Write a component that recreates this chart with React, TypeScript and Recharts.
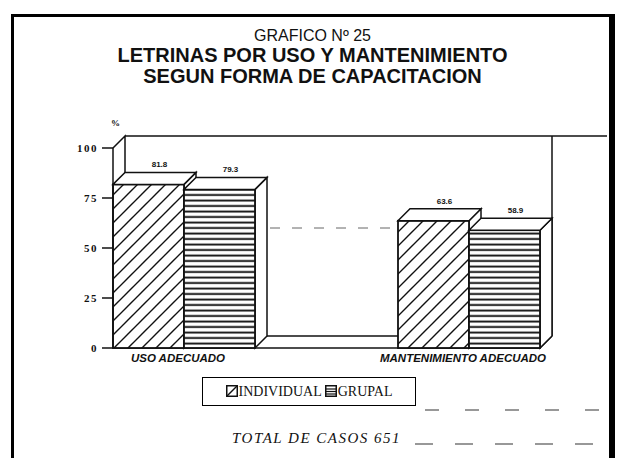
import React from "react";
import { BarChart, Bar, XAxis, YAxis, LabelList, usePlotArea } from "recharts";

// values (%)
const categories = ["USO ADECUADO", "MANTENIMIENTO ADECUADO"];
const individualValues = [81.8, 63.6];
const grupalValues = [79.3, 58.9];
const yTicks = [0, 25, 50, 75, 100];
const seriesNames = ["INDIVIDUAL", "GRUPAL"];

const chartData = categories.map((name, i) => ({
  name,
  individual: individualValues[i],
  grupal: grupalValues[i],
}));

const DEPTH = 12;
const INK = "#111";
const SANS = "'Liberation Sans', Arial, sans-serif";
const SERIF = "'Liberation Serif', 'Times New Roman', serif";

// one 3D bar: side, front (patterned) and top faces
function Bar3D(props: any) {
  const { x, y, width, height, pattern } = props;
  if (!height || height <= 0) return null;
  const d = DEPTH;
  return (
    <g>
      <polygon
        points={`${x + width},${y} ${x + width + d},${y - d} ${x + width + d},${y + height - d} ${x + width},${y + height}`}
        fill="#fff"
        stroke={INK}
        strokeWidth={1.5}
      />
      <rect x={x} y={y} width={width} height={height} fill={`url(#${pattern})`} stroke={INK} strokeWidth={1.8} />
      <polygon
        points={`${x},${y} ${x + d},${y - d} ${x + width + d},${y - d} ${x + width},${y}`}
        fill="#fff"
        stroke={INK}
        strokeWidth={1.5}
      />
    </g>
  );
}

function ValueLabel(props: any) {
  const { x, y, width, value } = props;
  return (
    <text
      x={x + width / 2 + 11}
      y={y - DEPTH - 5}
      textAnchor="middle"
      fontSize={8}
      fontWeight="bold"
      fontFamily={SANS}
      fill={INK}
    >
      {value}
    </text>
  );
}

function CategoryTick(props: any) {
  const { x, y, payload } = props;
  return (
    <text
      x={x - 6}
      y={y + 6}
      textAnchor="middle"
      fontSize={11.5}
      fontWeight="bold"
      fontStyle="italic"
      fontFamily={SANS}
      fill={INK}
    >
      {payload.value}
    </text>
  );
}

function ValueTick(props: any) {
  const { x, y, payload } = props;
  return (
    <text x={x - 2} y={y + 4} textAnchor="end" fontSize={11} fontWeight="bold" fontFamily={SERIF} letterSpacing={1.5} fill={INK}>
      {payload.value}
    </text>
  );
}

// back wall, left wall and floor of the 3D box
function Walls() {
  const area = usePlotArea();
  if (!area) return null;
  const { x, y, width, height } = area;
  const d = DEPTH;
  const r = x + width;
  const b = y + height;
  return (
    <g stroke={INK} strokeWidth={1.5} fill="none">
      <polyline points={`${x},${y} ${x + d},${y - d} ${x + d},${b - d}`} />
      <line x1={x + d} y1={y - d} x2={r + d + 55} y2={y - d} />
      <line x1={r + d} y1={y - d} x2={r + d} y2={b - d} />
      <line x1={x} y1={b} x2={r} y2={b} />
      <line x1={x + d} y1={b - d} x2={r + d} y2={b - d} />
      <line x1={x} y1={b} x2={x + d} y2={b - d} />
      <line x1={r} y1={b} x2={r + d} y2={b - d} />
      <line x1={x + d + 145} y1={y + height * 0.4} x2={x + d + 270} y2={y + height * 0.4} stroke="#666" strokeWidth={1} strokeDasharray="10 12" />
      <text x={x - 2} y={y - 22} fontSize={9} fontWeight="bold" fontFamily={SERIF} fill={INK} stroke="none">
        %
      </text>
    </g>
  );
}

function LegendIcon({ kind }: { kind: string }) {
  return (
    <svg width={12} height={12} style={{ verticalAlign: "-1px", marginRight: 1 }}>
      <rect x={0.75} y={0.75} width={10.5} height={10.5} fill="#fff" stroke={INK} strokeWidth={1.5} />
      {kind === "individual" ? (
        <line x1={1} y1={11} x2={11} y2={1} stroke={INK} strokeWidth={1.5} />
      ) : (
        <g stroke={INK} strokeWidth={1.2}>
          <line x1={1} y1={4} x2={11} y2={4} />
          <line x1={1} y1={6.5} x2={11} y2={6.5} />
          <line x1={1} y1={9} x2={11} y2={9} />
        </g>
      )}
    </svg>
  );
}

export default function App() {
  return (
    <div
      style={{
        position: "absolute",
        left: 0,
        top: 0,
        width: 625,
        height: 458,
        overflow: "hidden",
        background: "#fff",
      }}
    >
      {/* scanned page frame */}
      <div
        style={{
          position: "absolute",
          left: 11,
          top: 14,
          width: 595,
          height: 470,
          borderTop: "3px solid #000",
          borderLeft: "3px solid #000",
          borderRight: "6px solid #000",
        }}
      />

      <div style={{ position: "absolute", top: 27, left: 0, width: 625, textAlign: "center", fontFamily: SANS, color: INK }}>
        <div style={{ fontSize: 16, lineHeight: "18px" }}>GRAFICO Nº 25</div>
        <div style={{ fontSize: 20, lineHeight: "21px", fontWeight: "bold" }}>LETRINAS POR USO Y MANTENIMIENTO</div>
        <div style={{ fontSize: 20, lineHeight: "21px", fontWeight: "bold" }}>SEGUN FORMA DE CAPACITACION</div>
      </div>

      <div style={{ position: "absolute", left: 0, top: 0 }}>
        <BarChart
          width={625}
          height={458}
          data={chartData}
          margin={{ top: 148, right: 85, bottom: 80, left: 53 }}
          barCategoryGap={71.5}
          barGap={0}
        >
          <defs>
            <pattern id="hatchIndividual" patternUnits="userSpaceOnUse" width={14} height={14}>
              <rect width={14} height={14} fill="#fff" />
              <path d="M0,14 L14,0 M-3,3 L3,-3 M11,17 L17,11" stroke={INK} strokeWidth={1.4} />
            </pattern>
            <pattern id="linesGrupal" patternUnits="userSpaceOnUse" width={10} height={5.5}>
              <rect width={10} height={5.5} fill="#fff" />
              <line x1={0} y1={2.5} x2={10} y2={2.5} stroke={INK} strokeWidth={1.9} />
            </pattern>
          </defs>
          <Walls />
          <XAxis
            dataKey="name"
            padding={{ left: -71.5, right: -71.5 }}
            axisLine={false}
            tickLine={false}
            interval={0}
            height={30}
            tick={<CategoryTick />}
          />
          <YAxis
            domain={[0, 100]}
            ticks={yTicks}
            width={60}
            axisLine={{ stroke: INK, strokeWidth: 1.5 }}
            tickLine={{ stroke: INK, strokeWidth: 1.5 }}
            tickSize={11}
            tick={<ValueTick />}
          />
          <Bar dataKey="individual" name={seriesNames[0]} isAnimationActive={false} shape={(p: any) => <Bar3D {...p} pattern="hatchIndividual" />}>
            <LabelList dataKey="individual" content={<ValueLabel />} />
          </Bar>
          <Bar dataKey="grupal" name={seriesNames[1]} isAnimationActive={false} shape={(p: any) => <Bar3D {...p} pattern="linesGrupal" />}>
            <LabelList dataKey="grupal" content={<ValueLabel />} />
          </Bar>
        </BarChart>
      </div>

      {/* legend */}
      <div
        style={{
          position: "absolute",
          left: 202,
          top: 377,
          width: 212,
          height: 27,
          border: "1.5px solid #000",
          fontFamily: SERIF,
          fontSize: 14,
          lineHeight: "27px",
          textAlign: "center",
          color: INK,
        }}
      >
        <LegendIcon kind="individual" />
        {seriesNames[0]} <LegendIcon kind="grupal" />
        {seriesNames[1]}
      </div>

      <div
        style={{
          position: "absolute",
          left: 232,
          top: 430,
          fontFamily: SERIF,
          fontStyle: "italic",
          fontSize: 15,
          letterSpacing: 1.5,
          color: INK,
        }}
      >
        TOTAL DE CASOS 651
      </div>
      <svg style={{ position: "absolute", left: 0, top: 0 }} width={625} height={458}>
        <line x1={415} y1={444} x2={600} y2={444} stroke="#333" strokeWidth={1.2} strokeDasharray="18 22" />
        <line x1={425} y1={410} x2={600} y2={410} stroke="#333" strokeWidth={1.2} strokeDasharray="14 26" />
      </svg>
    </div>
  );
}
